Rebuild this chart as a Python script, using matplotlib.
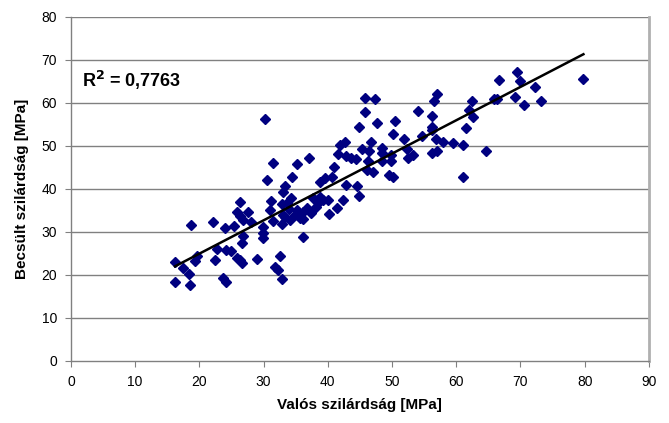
import numpy as np
import matplotlib
matplotlib.use("Agg")
import matplotlib.pyplot as plt

plt.rcParams['font.family'] = ['Liberation Sans', 'DejaVu Sans']

actual = [16.2, 17.4, 18.4, 16.2, 18.5, 18.7, 19.3, 19.7, 22.2, 22.4, 22.8, 23.7, 24.1, 24.0, 24.1,
          24.9, 25.4, 25.9, 26.3, 25.8, 26.3, 26.8, 27.6, 28.1, 26.8, 26.7, 26.4, 26.6, 28.9, 29.9,
          29.9, 29.9, 30.6, 30.2, 31.5, 31.0, 31.2, 31.5, 32.6, 31.8, 32.3, 32.8, 32.8, 33.6, 33.9,
          33.4, 32.9, 33.1, 34.3, 33.0, 33.3, 34.5, 35.2, 35.2, 34.9, 35.7, 34.1, 36.1, 36.7, 37.4,
          36.1, 36.1, 37.0, 37.7, 38.8, 38.5, 38.2, 39.3, 40.0, 40.2, 41.4, 42.3, 38.8, 39.6, 40.6,
          41.0, 42.9, 44.5, 44.9, 41.6, 41.9, 42.7, 42.9, 43.6, 44.4, 45.3, 46.4, 46.8, 46.3, 46.1,
          47.0, 44.9, 45.8, 45.8, 47.4, 47.6, 48.5, 48.5, 48.4, 49.8, 49.8, 49.6, 50.2, 50.5, 50.2,
          51.8, 52.3, 53.2, 52.5, 54.1, 54.6, 56.2, 56.2, 56.3, 56.6, 57.0, 56.8, 56.2, 57.0, 58.0,
          59.5, 61.0, 61.1, 61.5, 62.0, 62.4, 62.6, 64.6, 65.8, 66.3, 66.6, 69.5, 70.0, 72.2, 69.2,
          70.5, 73.2, 79.8]
predicted = [22.9, 21.7, 20.3, 18.3, 17.7, 31.5, 23.3, 24.4, 32.2, 23.5, 26.1, 19.2, 18.4, 31.0, 25.8,
             25.6, 31.3, 23.9, 37.0, 34.7, 33.6, 32.8, 34.7, 32.4, 29.0, 27.3, 23.5, 22.7, 23.8, 31.2,
             29.8, 28.6, 42.1, 56.3, 46.1, 35.2, 37.1, 32.6, 24.3, 21.8, 21.1, 19.0, 36.5, 36.8, 35.3,
             33.4, 31.9, 34.0, 37.9, 39.3, 40.7, 42.7, 45.9, 35.1, 34.0, 33.2, 32.8, 28.9, 35.5, 34.4,
             34.7, 33.0, 47.2, 37.9, 38.2, 36.7, 35.8, 37.3, 37.5, 34.2, 35.5, 37.3, 41.7, 42.5, 42.7,
             45.2, 41.0, 40.7, 38.4, 48.2, 50.3, 50.8, 47.6, 47.2, 46.9, 49.3, 48.7, 50.8, 46.5, 44.3,
             43.9, 54.5, 57.9, 61.2, 60.8, 55.3, 49.5, 48.3, 46.4, 46.4, 47.9, 43.3, 42.7, 55.7, 52.8,
             51.7, 49.3, 47.9, 47.2, 58.2, 52.2, 57.0, 54.5, 53.8, 60.4, 62.1, 51.6, 48.3, 48.7, 51.0,
             50.7, 50.1, 42.7, 54.2, 58.4, 60.5, 56.7, 48.7, 60.8, 60.8, 65.4, 67.1, 65.0, 63.6, 61.4,
             59.4, 60.5, 65.6]

x_ticks = [0, 10, 20, 30, 40, 50, 60, 70, 80, 90]
y_ticks = [0, 10, 20, 30, 40, 50, 60, 70, 80]
r2_label = "R$^{\\mathbf{2}}$ = 0,7763"
x_label = "Valós szilárdság [MPa]"
y_label = "Becsült szilárdság [MPa]"

x = np.array(actual)
y = np.array(predicted)

fig = plt.figure(figsize=(6.69, 4.23), dpi=100)
ax = fig.add_axes([0.106, 0.147, 0.864, 0.813])

for v in y_ticks[1:]:
    ax.axhline(v, color='#808080', lw=1.0, zorder=1)

ax.plot(x, y, linestyle='none', marker='D', ms=5.5, color='#000080',
        markeredgecolor='#000080', zorder=3)

slope, intercept = np.polyfit(x, y, 1)
xl = np.array([x.min(), x.max()])
ax.plot(xl, slope * xl + intercept, color='black', lw=1.8, zorder=4)

ax.set_xlim(0, 90)
ax.set_ylim(0, 80)
ax.set_xticks(x_ticks)
ax.set_yticks(y_ticks)
ax.tick_params(direction='out', length=4, color='#808080', labelsize=10, pad=6)

for s in ['left', 'bottom']:
    ax.spines[s].set_color('#808080')
    ax.spines[s].set_linewidth(1.0)
ax.spines['right'].set_color('#b0b0b0')
ax.spines['right'].set_linewidth(2.0)
ax.spines['top'].set_visible(False)

ax.text(1.7, 63.8, r2_label, fontsize=13, fontweight='bold', va='baseline', ha='left')

ax.set_xlabel(x_label, fontsize=11, fontweight='bold', labelpad=7)
ax.set_ylabel(y_label, fontsize=11, fontweight='bold', labelpad=9)

fig.savefig('out.png', dpi=100)
